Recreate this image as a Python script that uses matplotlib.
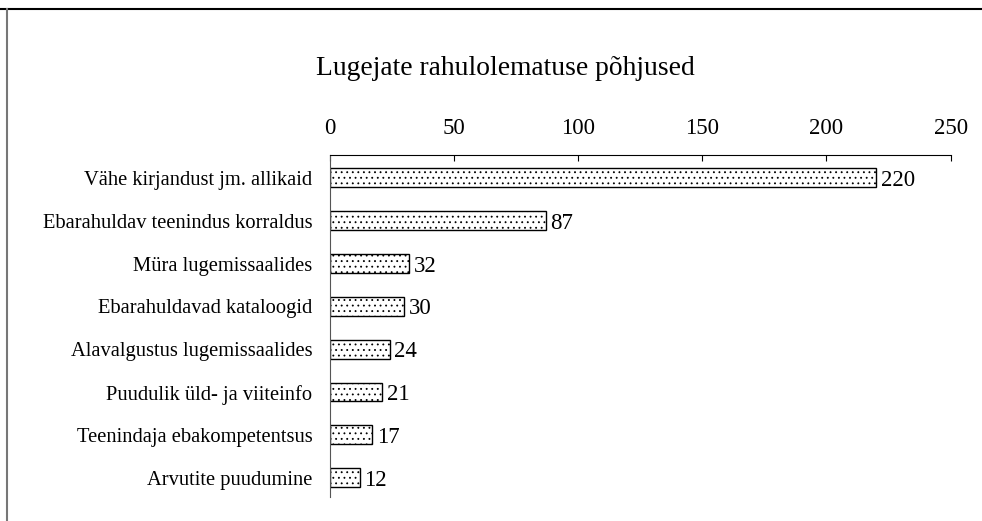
import matplotlib
matplotlib.use("Agg")
import matplotlib.pyplot as plt
from matplotlib.lines import Line2D

categories = [
    "Vähe kirjandust jm. allikaid",
    "Ebarahuldav teenindus korraldus",
    "Müra lugemissaalides",
    "Ebarahuldavad kataloogid",
    "Alavalgustus lugemissaalides",
    "Puudulik üld- ja viiteinfo",
    "Teenindaja ebakompetentsus",
    "Arvutite puudumine",
]
values = [220, 87, 32, 30, 24, 21, 17, 12]
xticks = [0, 50, 100, 150, 200, 250]
title = "Lugejate rahulolematuse põhjused"

plt.rcParams['font.family'] = ['Liberation Serif', 'DejaVu Serif']
plt.rcParams['hatch.linewidth'] = 0.6

fig = plt.figure(figsize=(9.82, 5.21), dpi=100)
ax = fig.add_axes([0.336, 0.046, 0.632, 0.657])

pos = list(range(len(categories)))
bars = ax.barh(pos, values, height=0.44, color='white', edgecolor='black',
               linewidth=1.0, hatch='...')
for p, v in zip(pos, values):
    ax.text(v + 1.8, p, str(v), va='center_baseline', ha='left', fontsize=16.5)

ax.set_xlim(0, 250)
ax.set_ylim(7.45, -0.54)
ax.set_xticks(xticks)
ax.xaxis.tick_top()
ax.tick_params(axis='x', direction='in', length=4, labelsize=16.5, pad=11)
ax.set_yticks(pos)
ax.set_yticklabels(categories, fontsize=14.8)
ax.tick_params(axis='y', length=0, pad=12.5)
for s in ['right', 'bottom']:
    ax.spines[s].set_visible(False)
ax.spines['left'].set_color('#555555')

fig.text(0.515, 0.869, title, ha='center', va='center', fontsize=19.8)

# figure border lines (top and left)
fig.add_artist(Line2D([0, 1], [1 - 8.5/521, 1 - 8.5/521], color='black', lw=1.5, transform=fig.transFigure))
fig.add_artist(Line2D([6.5/982, 6.5/982], [0, 1 - 8.5/521], color='#777777', lw=1.5, transform=fig.transFigure))

fig.savefig("out.png", dpi=100)
